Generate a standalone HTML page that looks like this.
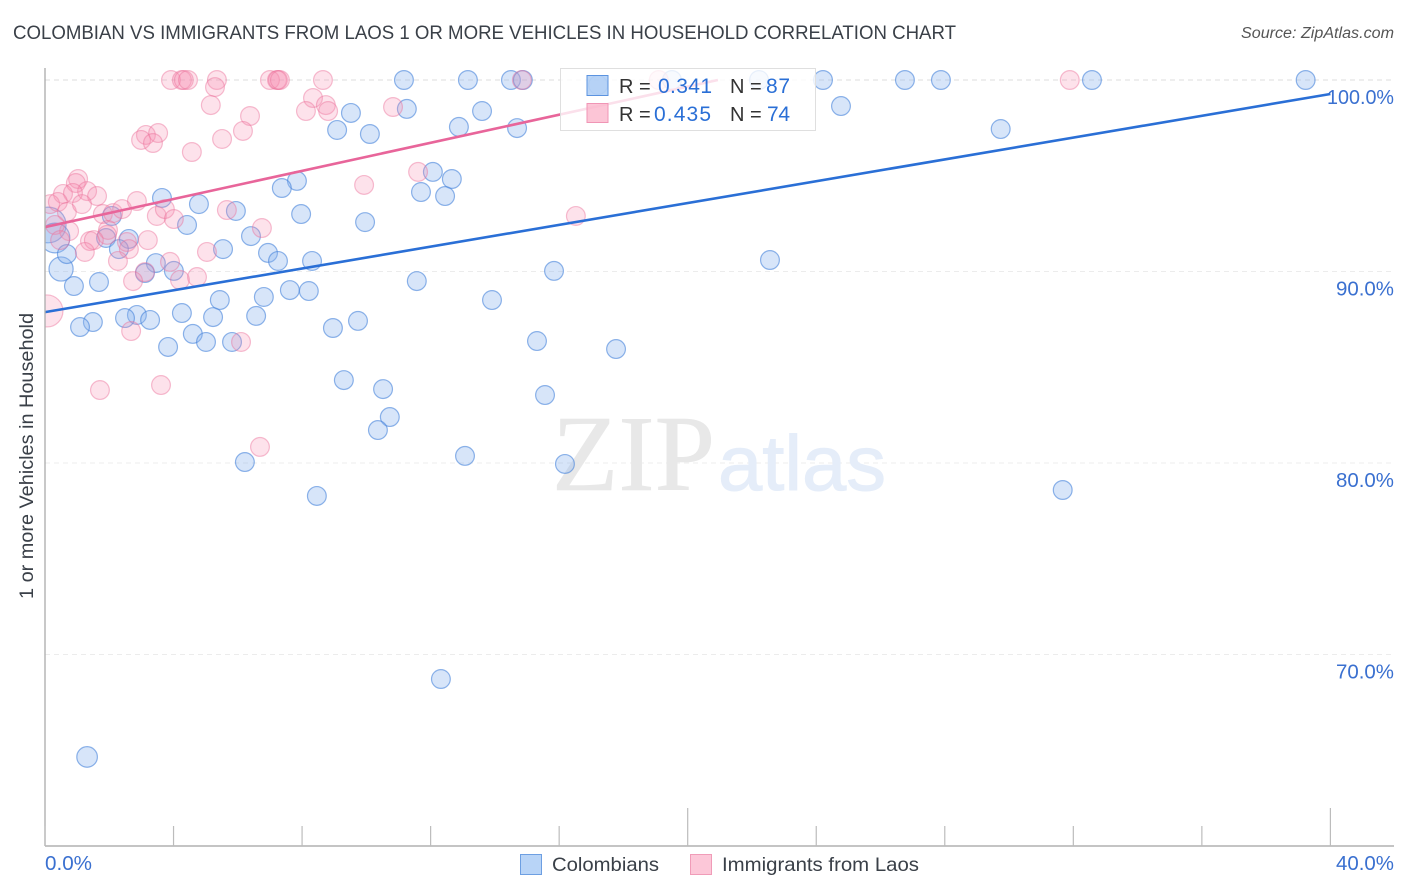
<!DOCTYPE html>
<html lang="en">
<head>
<meta charset="utf-8">
<title>Colombian vs Immigrants from Laos 1 or More Vehicles in Household Correlation Chart</title>
<style>
html,body{margin:0;padding:0;background:#fff;width:1406px;height:892px;overflow:hidden}
svg{display:block;font-family:"Liberation Sans",sans-serif}
</style>
</head>
<body>
<svg id="chart" width="1406" height="892" viewBox="0 0 1406 892" xmlns="http://www.w3.org/2000/svg">
  <defs>
    <clipPath id="plot-clip"><rect x="45.5" y="60" width="1349" height="786"></rect></clipPath>
  </defs>
  <rect x="0" y="0" width="1406" height="892" fill="#ffffff"></rect>
  <text x="13" y="39" font-size="19" fill="#3a4048" textLength="943" lengthAdjust="spacingAndGlyphs">COLOMBIAN VS IMMIGRANTS FROM LAOS 1 OR MORE VEHICLES IN HOUSEHOLD CORRELATION CHART</text>
  <text x="1241" y="38" font-size="15.5" font-style="italic" fill="#555" textLength="153" lengthAdjust="spacingAndGlyphs">Source: ZipAtlas.com</text>
  <g id="grid"></g>
  <text x="552" y="490" font-family="'Liberation Serif',serif" font-size="108" fill="#e8e8e8" stroke="#e8e8e8" stroke-width="0.6" textLength="163" lengthAdjust="spacingAndGlyphs">ZIP</text>
  <text x="718" y="490" font-size="78" fill="#e5edf9" stroke="#e5edf9" stroke-width="1" textLength="168" lengthAdjust="spacingAndGlyphs">atlas</text>
  <g id="marks" clip-path="url(#plot-clip)"></g>
  <line id="colombian-trend" stroke="#2a6fd6" stroke-width="2.6"></line>
  <line id="laos-trend" stroke="#e8659a" stroke-width="2.6"></line>
  <g id="axes"></g>
  <text transform="translate(33,456) rotate(-90)" font-size="19" fill="#3a4048" text-anchor="middle" textLength="286" lengthAdjust="spacingAndGlyphs">1 or more Vehicles in Household</text>

  <g>
    <rect x="560.5" y="68.5" width="255" height="62" fill="#ffffff" fill-opacity="0.8" stroke="#dfdfdf"></rect>
    <rect x="587" y="75.5" width="21" height="20" fill="#8ab8f0" fill-opacity="0.6" stroke="#5b93e0"></rect>
    <rect x="587" y="103.5" width="21" height="19" fill="#fbb6cc" fill-opacity="0.8" stroke="#f095b5"></rect>
    <text x="619" y="93" font-size="20" fill="#333">R =</text>
    <text x="658" y="93" font-size="21" fill="#2a6fd6" textLength="54">0.341</text>
    <text x="730" y="93" font-size="20" fill="#333">N =</text>
    <text x="766" y="93" font-size="21" fill="#2a6fd6" textLength="24">87</text>
    <text x="619" y="121" font-size="20" fill="#333">R =</text>
    <text x="654" y="121" font-size="21" fill="#2a6fd6" textLength="57">0.435</text>
    <text x="730" y="121" font-size="20" fill="#333">N =</text>
    <text x="767" y="121" font-size="21" fill="#2a6fd6" textLength="23">74</text>
  </g>

  <g>
    <g>
      <rect x="520.5" y="854.5" width="21" height="20" fill="#b8d4f7" stroke="#6d9fe2"></rect>
      <text x="552" y="871" font-size="19.5" fill="#3a4048" textLength="107" lengthAdjust="spacingAndGlyphs">Colombians</text>
    </g>
    <g>
      <rect x="690.5" y="854.5" width="21" height="20" fill="#fcc7d8" stroke="#f09cb8"></rect>
      <text x="722" y="871" font-size="19.5" fill="#3a4048" textLength="197" lengthAdjust="spacingAndGlyphs">Immigrants from Laos</text>
    </g>
  </g>
</svg>
<script>
const colombianX = [0.10,0.31,0.50,1.31,11.17,13.16,14.50,14.87,17.21,19.51,22.22,24.21,26.76,27.88,32.58,39.23,9.52,11.26,13.60,24.77,9.09,10.11,12.88,14.69,29.74,12.07,12.66,7.84,7.37,11.70,12.45,3.64,4.79,5.94,7.97,2.08,9.96,4.42,2.61,1.90,2.30,5.54,6.41,0.68,6.94,7.25,8.31,3.45,22.56,3.11,4.01,15.84,11.57,1.68,0.90,7.62,8.21,6.81,5.44,13.91,4.26,5.23,6.57,2.86,2.49,3.27,1.49,1.09,9.74,8.96,4.60,5.01,5.82,3.83,15.31,17.77,9.30,10.52,15.56,10.73,10.36,13.07,6.22,16.18,8.46,31.67,12.32];
const colombianY = [92.43,91.75,90.13,64.65,100,100,100,100,99.74,100,100,100,100,100,100,100,98.28,98.49,98.38,98.64,97.39,97.18,97.55,97.49,97.44,95.20,94.83,94.73,94.36,94.15,93.94,93.84,93.52,93.16,93.00,92.90,92.58,92.43,91.70,91.75,91.17,91.17,91.85,90.91,90.97,90.55,90.55,90.44,90.60,89.92,90.03,90.03,89.50,89.45,89.24,89.03,88.98,88.67,88.51,88.51,87.83,87.62,87.68,87.73,87.57,87.47,87.36,87.10,87.42,87.05,86.74,86.32,86.32,86.06,86.37,85.95,84.33,83.86,83.55,82.40,81.72,80.37,80.05,79.95,78.28,78.59,68.72];
const colombianWeight = [3.6,2.5,1.65,1.2];

const laosX = [0.06,1.71,3.61,6.69,6.10,2.68,3.92,4.26,4.32,4.45,5.35,5.29,5.16,7.00,7.22,7.25,7.31,8.65,14.84,19.10,31.89,6.38,6.16,5.51,4.57,8.34,8.74,8.81,8.12,10.83,3.14,3.52,2.99,3.36,1.03,0.96,1.31,1.62,0.56,0.87,0.16,0.40,0.68,1.15,1.80,2.12,2.40,2.86,3.48,3.73,4.01,0.75,0.31,1.96,1.93,1.40,1.52,1.24,2.55,2.61,2.27,3.20,5.04,3.89,3.11,2.74,4.20,4.73,5.66,6.75,11.61,9.93,16.52,0.47];
const laosY = [87.94,83.81,84.07,80.84,86.32,86.89,100,100,100,100,100,99.63,98.69,100,100,100,100,100,100,100,100,98.12,97.34,96.92,96.24,99.06,98.69,98.38,98.38,98.59,97.13,97.23,96.87,96.71,94.83,94.62,94.20,93.94,94.05,94.10,93.52,93.63,93.11,93.52,93.00,93.05,93.26,93.68,92.90,93.26,92.74,92.11,92.43,92.17,91.91,91.59,91.64,91.02,91.54,91.17,90.55,91.64,91.02,90.50,89.97,89.50,89.56,89.71,93.21,92.27,95.20,94.52,92.90,91.64];
const laosWeight = [2.9];

const colombianTrendX = [0, 40];
const colombianTrendY = [87.88, 99.27];
const laosTrendX = [0, 20.94];
const laosTrendY = [92.32, 100];

const xTickValues = [0,4,8,12,16,20,24,28,32,36,40];
const xMajorTicks = [20,40];
const yTickValues = [100,90,80,70];
const xEndLabels = ['0.0%','40.0%'];
const yTickLabels = ['100.0%','90.0%','80.0%','70.0%'];

const NS = 'http://www.w3.org/2000/svg';
function xScale(v){ return 45 + v * 32.135; }
function yScale(v){ return 80 + (100 - v) * 19.15; }
function radius(w){ return 9.4 * Math.sqrt(w); }
function make(tag, attrs){
  const el = document.createElementNS(NS, tag);
  for (const k in attrs) el.setAttribute(k, attrs[k]);
  return el;
}

const gridGroup = document.getElementById('grid');
yTickValues.forEach(function(v, i){
  const ln = make('line', {x1:45, x2:1394, y1:yScale(v), y2:yScale(v), stroke:i===0?'#dcdcdc':'#ececec', 'stroke-width':1, 'stroke-dasharray':'5 4'});
  
  
  gridGroup.appendChild(ln);
});

const marks = document.getElementById('marks');
function drawSeries(xs, ys, ws, fill, stroke, name, fo, so){
  xs.forEach(function(x, i){
    const c = make('circle', {cx:xScale(x), cy:yScale(ys[i]), r:radius(ws[i] || 1), fill:fill, 'fill-opacity':fo, stroke:stroke, 'stroke-opacity':so, 'stroke-width':1.2});
    
    
    marks.appendChild(c);
  });
}
drawSeries(colombianX, colombianY, colombianWeight, '#8ab4ec', '#4a86dc', 'colombians-point', 0.34, 0.62);
drawSeries(laosX, laosY, laosWeight, '#f78fb0', '#ec6f98', 'laos-point', 0.26, 0.45);

function setTrend(id, xs, ys){
  const l = document.getElementById(id);
  l.setAttribute('x1', xScale(xs[0]));
  l.setAttribute('y1', yScale(ys[0]));
  l.setAttribute('x2', xScale(xs[1]));
  l.setAttribute('y2', yScale(ys[1]));
}
setTrend('colombian-trend', colombianTrendX, colombianTrendY);
setTrend('laos-trend', laosTrendX, laosTrendY);

const axes = document.getElementById('axes');
const yAxisLine = make('line', {x1:45, x2:45, y1:68, y2:846, stroke:'#b0b0b0', 'stroke-width':1.4});


axes.appendChild(yAxisLine);
const xAxisLine = make('line', {x1:45, x2:1394, y1:846, y2:846, stroke:'#b0b0b0', 'stroke-width':1.4});


axes.appendChild(xAxisLine);
xTickValues.forEach(function(v){
  const major = xMajorTicks.indexOf(v) >= 0;
  const t = make('line', {x1:xScale(v), x2:xScale(v), y1:major?808:826, y2:846, stroke:'#bcbcbc', 'stroke-width':1.2});
  
  
  axes.appendChild(t);
});
yTickValues.forEach(function(v, i){
  const t = make('text', {x:1394, y:yScale(v) + 24, 'font-size':20, fill:'#3a70d0', 'text-anchor':'end', textLength:yTickLabels[i].length === 6 ? 67 : 58, lengthAdjust:'spacingAndGlyphs'});
  t.textContent = yTickLabels[i];
  
  
  axes.appendChild(t);
});
const x0Label = make('text', {x:45, y:870, 'font-size':20, fill:'#3a70d0', textLength:47, lengthAdjust:'spacingAndGlyphs'});
x0Label.textContent = xEndLabels[0];


axes.appendChild(x0Label);
const x1Label = make('text', {x:1394, y:870, 'font-size':20, fill:'#3a70d0', 'text-anchor':'end', textLength:58, lengthAdjust:'spacingAndGlyphs'});
x1Label.textContent = xEndLabels[1];


axes.appendChild(x1Label);
</script>
</body>
</html>
